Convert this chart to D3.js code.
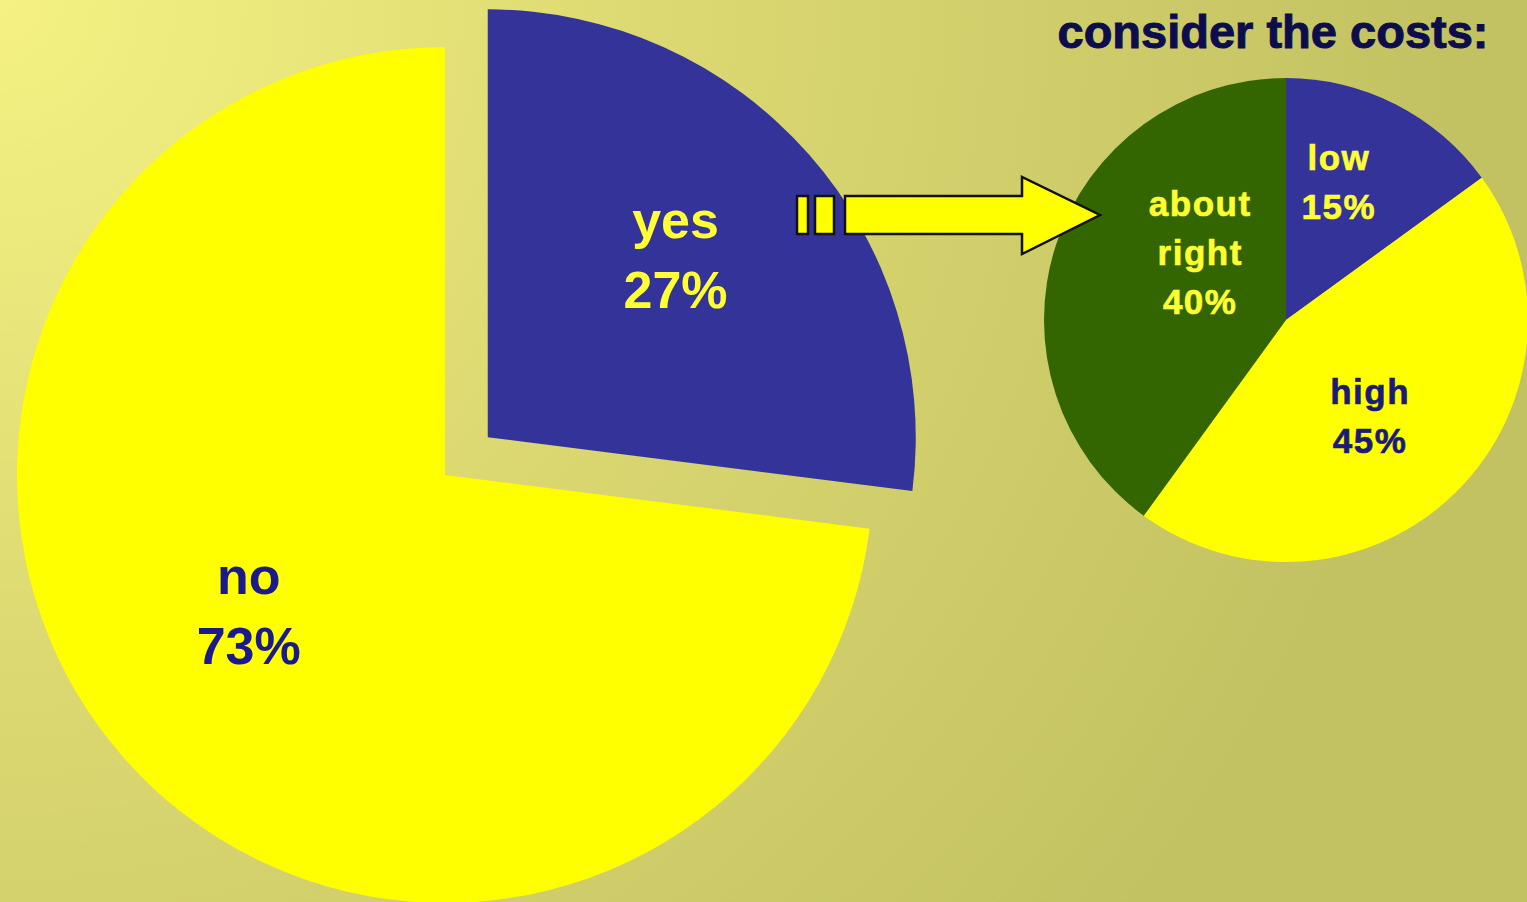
<!DOCTYPE html>
<html>

<head>
    <title>Costs pie</title>
    <script src="https://d3js.org/d3.v7.min.js"></script>
    <style>
        body { margin: 0; overflow: hidden; }
        text { font-family: "Liberation Sans", Arial, sans-serif; font-weight: bold; }
    </style>
</head>

<body>
    <script>
        // main question
        const mainLabels = ['yes', 'no'];
        const mainValues = [27, 73];
        // follow-up among the "yes" answers
        const subLabels = ['low', 'high', 'about right'];
        const subValues = [15, 45, 40];
        const subTitle = 'consider the costs:';

        const msm = { width: 1527, height: 902 }

        let svg = d3.select('body')
            .append('svg')
            .attr('width', msm.width)
            .attr('height', msm.height)

        // background gradient
        let defs = svg.append('defs');
        let grad = defs.append('radialGradient')
            .attr('id', 'bg')
            .attr('gradientUnits', 'userSpaceOnUse')
            .attr('cx', 0).attr('cy', 0).attr('r', 1450);
        grad.append('stop').attr('offset', '0').attr('stop-color', '#f5f283');
        grad.append('stop').attr('offset', '0.45').attr('stop-color', '#dcd972');
        grad.append('stop').attr('offset', '1').attr('stop-color', '#c3c262');

        svg.append('rect')
            .attr('width', msm.width)
            .attr('height', msm.height)
            .attr('fill', 'url(#bg)');

        const mainColors = { yes: '#333399', no: '#ffff00' };
        const mainText = { yes: '#ffff33', no: '#1a1a8c' };
        const subColors = { low: '#333399', high: '#ffff00', 'about right': '#336600' };
        const subText = { low: '#ffff33', high: '#1a1a7a', 'about right': '#ffff33' };

        // label placement: [angle in degrees, fraction of radius]
        const mainLabelPos = { yes: [46, 0.61], no: [235, 0.56] };
        const subLabelPos = { low: [21, 0.61], high: [139, 0.53], 'about right': [308, 0.45] };

        let pie = d3.pie().sort(null);

        // ---- big pie
        const bigR = 428;
        const bigC = [445, 475];
        const explode = 57;

        let mainArcs = pie(mainValues).map((d, i) => Object.assign(d, { label: mainLabels[i] }));
        let bigArc = d3.arc().innerRadius(0).outerRadius(bigR);

        let big = svg.append('g').attr('transform', `translate(${bigC[0]},${bigC[1]})`);

        let slices = big.selectAll('g.slice')
            .data(mainArcs)
            .enter()
            .append('g')
            .attr('class', 'slice')
            .attr('transform', d => {
                if (d.label !== 'yes') return null;
                let a = (d.startAngle + d.endAngle) / 2;
                return `translate(${explode * Math.sin(a)},${-explode * Math.cos(a)})`;
            });

        slices.append('path')
            .attr('d', bigArc)
            .attr('fill', d => mainColors[d.label]);

        function polar(deg, r) {
            let a = deg * Math.PI / 180;
            return [r * Math.sin(a), -r * Math.cos(a)];
        }

        slices.each(function (d) {
            let p = polar(mainLabelPos[d.label][0], mainLabelPos[d.label][1] * bigR);
            let t = d3.select(this).append('text')
                .attr('text-anchor', 'middle')
                .attr('font-size', 52)
                .attr('fill', mainText[d.label]);
            t.append('tspan').attr('x', p[0]).attr('y', p[1] - 18).text(d.label);
            t.append('tspan').attr('x', p[0]).attr('y', p[1] + 52)
                .text(Math.round(d.value) + '%');
        });

        // ---- small pie
        const smallR = 242;
        const smallC = [1286, 320];

        let subArcs = pie(subValues).map((d, i) => Object.assign(d, { label: subLabels[i] }));
        let smallArc = d3.arc().innerRadius(0).outerRadius(smallR);

        let small = svg.append('g').attr('transform', `translate(${smallC[0]},${smallC[1]})`);

        small.selectAll('path')
            .data(subArcs)
            .enter()
            .append('path')
            .attr('d', smallArc)
            .attr('fill', d => subColors[d.label]);

        small.selectAll('text')
            .data(subArcs)
            .enter()
            .append('text')
            .attr('text-anchor', 'middle')
            .attr('font-size', 35)
            .attr('letter-spacing', 1.5)
            .attr('fill', d => subText[d.label])
            .attr('stroke', d => subText[d.label])
            .attr('stroke-width', 0.6)
            .each(function (d) {
                let p = polar(subLabelPos[d.label][0], subLabelPos[d.label][1] * smallR);
                let lines = d.label.split(' ').concat([d.value + '%']);
                let y0 = p[1] - (lines.length - 1) * 49 / 2 + 12;
                lines.forEach((l, k) => {
                    d3.select(this).append('tspan')
                        .attr('x', p[0])
                        .attr('y', y0 + k * 49)
                        .text(l);
                });
            });

        svg.append('text')
            .attr('x', 1273)
            .attr('y', 48)
            .attr('text-anchor', 'middle')
            .attr('font-size', 47)
            .attr('fill', '#0d0d4d')
            .attr('stroke', '#0d0d4d')
            .attr('stroke-width', 1)
            .text(subTitle);

        // ---- arrow from "yes" to the small pie
        let arrow = svg.append('g')
            .attr('fill', '#ffff00')
            .attr('stroke', '#111')
            .attr('stroke-width', 2.5);

        arrow.append('rect').attr('x', 797).attr('y', 196).attr('width', 11).attr('height', 38);
        arrow.append('rect').attr('x', 815).attr('y', 196).attr('width', 19).attr('height', 38);

        let line = d3.line();
        arrow.append('path')
            .attr('d', line([[845, 196], [1022, 196], [1022, 177], [1100, 215],
                [1022, 254], [1022, 234], [845, 234]]) + 'Z');
    </script>
</body>
</html>
